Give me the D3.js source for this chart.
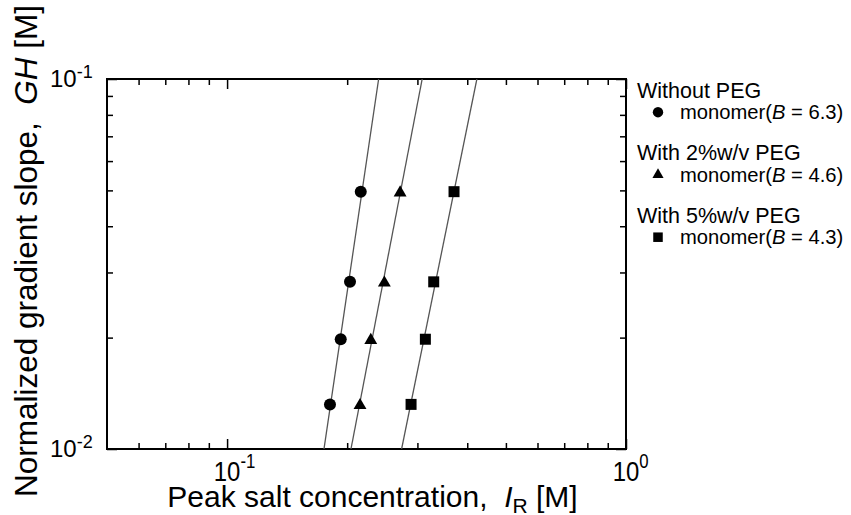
<!DOCTYPE html>
<html>
<head>
<meta charset="utf-8">
<script src="https://cdn.jsdelivr.net/npm/d3@7/dist/d3.min.js"></script>
<style>
  html, body { margin: 0; padding: 0; background: #fff; }
  svg { display: block; font-family: "Liberation Sans", Arial, sans-serif; }
</style>
</head>
<body>
<svg id="chart" width="851" height="515"></svg>
<script>
// Normalized gradient slope GH [M] at each measured gradient
const ghValues = [0.0132, 0.0198, 0.0283, 0.0496];

// Peak salt concentration I_R [M] for each condition, same order as ghValues
const irWithoutPEG = [0.1811, 0.1927, 0.2033, 0.2163];
const irPEG2 = [0.2154, 0.2292, 0.2479, 0.2715];
const irPEG5 = [0.2892, 0.3141, 0.3296, 0.3706];

// Condition headings, item labels and fitted B values
const groupTitles = ["Without PEG", "With 2%w/v PEG", "With 5%w/v PEG"];
const itemLabels = ["monomer", "monomer", "monomer"];
const bValues = [6.3, 4.6, 4.3];
const markerShapes = ["circle", "triangle", "square"];

// Axis ranges and tick values
const xDomain = [0.05, 1];
const yDomain = [0.01, 0.1];
const xMajorTicks = [0.1, 1];
const xMinorTicks = [0.06, 0.07, 0.08, 0.09, 0.2, 0.3, 0.4, 0.5, 0.6, 0.7, 0.8, 0.9];
const yMajorTicks = [0.01, 0.1];
const yMinorTicks = [0.02, 0.03, 0.04, 0.05, 0.06, 0.07, 0.08, 0.09];
const xTickExponents = ["-1", "0"];
const yTickExponents = ["-2", "-1"];

const series = [irWithoutPEG, irPEG2, irPEG5].map((xs, i) => ({
  title: groupTitles[i],
  label: itemLabels[i],
  B: bValues[i],
  shape: markerShapes[i],
  points: xs.map((x, j) => ({ x, y: ghValues[j] }))
}));

const svg = d3.select("#chart");
const plot = { left: 107, top: 79, right: 626, bottom: 449 };

const x = d3.scaleLog().domain(xDomain).range([plot.left, plot.right]);
const y = d3.scaleLog().domain(yDomain).range([plot.bottom, plot.top]);

svg.append("defs").append("clipPath").attr("id", "plotClip")
  .append("rect")
  .attr("x", plot.left).attr("y", plot.top)
  .attr("width", plot.right - plot.left).attr("height", plot.bottom - plot.top);

// Ticks point inward on all four sides
function tickAxis(axisFn, scale, values, size, transform) {
  const g = svg.append("g")
    .attr("transform", transform)
    .call(axisFn(scale).tickValues(values).tickSize(size).tickFormat(""));
  g.select(".domain").remove();
  g.selectAll(".tick line").attr("stroke", "#000").attr("stroke-width", 1.5);
  return g;
}
tickAxis(d3.axisBottom, x, xMajorTicks, -10, `translate(0,${plot.bottom})`);
tickAxis(d3.axisBottom, x, xMinorTicks, -6, `translate(0,${plot.bottom})`);
tickAxis(d3.axisTop, x, xMajorTicks, -10, `translate(0,${plot.top})`);
tickAxis(d3.axisTop, x, xMinorTicks, -6, `translate(0,${plot.top})`);
tickAxis(d3.axisLeft, y, yMajorTicks, -10, `translate(${plot.left},0)`);
tickAxis(d3.axisLeft, y, yMinorTicks, -6, `translate(${plot.left},0)`);
tickAxis(d3.axisRight, y, yMajorTicks, -10, `translate(${plot.right},0)`);
tickAxis(d3.axisRight, y, yMinorTicks, -6, `translate(${plot.right},0)`);

// Frame
svg.append("rect")
  .attr("x", plot.left).attr("y", plot.top)
  .attr("width", plot.right - plot.left).attr("height", plot.bottom - plot.top)
  .attr("fill", "none").attr("stroke", "#000").attr("stroke-width", 2);

// Power-of-ten tick labels (x labels use a slightly condensed face)
const xFs = 28.5, xSupFs = 20, xSquash = 0.84;
xMajorTicks.forEach((v, i) => {
  const t = svg.append("text")
    .attr("transform", `translate(${x(v)},${plot.bottom + 31.7}) scale(${xSquash},1)`)
    .attr("x", -0.556 * xFs)
    .attr("font-size", xFs).attr("fill", "#000");
  t.append("tspan").text("10");
  t.append("tspan").attr("font-size", xSupFs).attr("dy", -12.5).text(xTickExponents[i]);
});
const yFs = 24, ySupFs = 18;
yMajorTicks.forEach((v, i) => {
  const t = svg.append("text")
    .attr("x", 50).attr("y", y(v) + 7.7)
    .attr("font-size", yFs).attr("fill", "#000");
  t.append("tspan").text("10");
  t.append("tspan").attr("font-size", ySupFs).attr("dy", -8.5).text(yTickExponents[i]);
});

// Axis titles
const xTitle = svg.append("text")
  .attr("x", 372.5).attr("y", 506.5)
  .attr("text-anchor", "middle").attr("font-size", 30).attr("fill", "#000");
xTitle.append("tspan").text("Peak salt concentration,\u00a0\u00a0");
xTitle.append("tspan").attr("font-style", "italic").text("I");
xTitle.append("tspan").attr("font-size", 21).attr("dy", 6).text("R");
xTitle.append("tspan").attr("dy", -6).text(" [M]");

const yTitle = svg.append("text")
  .attr("transform", "translate(37,251) rotate(-90)")
  .attr("text-anchor", "middle").attr("font-size", 31.5).attr("fill", "#000");
yTitle.append("tspan").text("Normalized gradient slope,\u00a0\u00a0");
yTitle.append("tspan").attr("font-style", "italic").text("GH");
yTitle.append("tspan").text(" [M]");

// Fitted lines: log GH = (B + 1) log I_R + c, with c from the mean of the points
const lineLayer = svg.append("g").attr("clip-path", "url(#plotClip)");
series.forEach(s => {
  const k = s.B + 1;
  const mx = d3.mean(s.points, p => Math.log10(p.x));
  const my = d3.mean(s.points, p => Math.log10(p.y));
  const c = my - k * mx;
  const ends = yDomain.map(gy => ({ x: Math.pow(10, (Math.log10(gy) - c) / k), y: gy }));
  lineLayer.append("line")
    .attr("x1", x(ends[0].x)).attr("y1", y(ends[0].y))
    .attr("x2", x(ends[1].x)).attr("y2", y(ends[1].y))
    .attr("stroke", "#555").attr("stroke-width", 1.3);
});

// Marker symbols
const symbolType = { circle: d3.symbolCircle, triangle: d3.symbolTriangle, square: d3.symbolSquare };
const symbolArea = { circle: Math.PI * 36, triangle: 72, square: 121 };
function marker(sel, shape, scale) {
  sel.attr("d", d3.symbol().type(symbolType[shape]).size(symbolArea[shape] * scale)())
    .attr("fill", "#000");
}

series.forEach(s => {
  svg.append("g").selectAll("path")
    .data(s.points)
    .join("path")
    .attr("transform", d => `translate(${x(d.x)},${y(d.y) + (s.shape === "triangle" ? 1 : 0)})`)
    .call(sel => marker(sel, s.shape, 1));
});

// Legend
const legend = svg.append("g");
series.forEach((s, i) => {
  const base = 97.7 + i * 62.5;
  legend.append("text")
    .attr("x", 637).attr("y", base)
    .attr("font-size", 21.5).attr("fill", "#000")
    .text(s.title);
  legend.append("path")
    .attr("transform", `translate(658,${base + 14.5})`)
    .call(sel => marker(sel, s.shape, 0.75));
  const t = legend.append("text")
    .attr("x", 680).attr("y", base + 21.5)
    .attr("font-size", 20.2).attr("fill", "#000");
  t.append("tspan").text(s.label + "(");
  t.append("tspan").attr("font-style", "italic").text("B");
  t.append("tspan").text(` = ${s.B})`);
});
</script>
</body>
</html>
